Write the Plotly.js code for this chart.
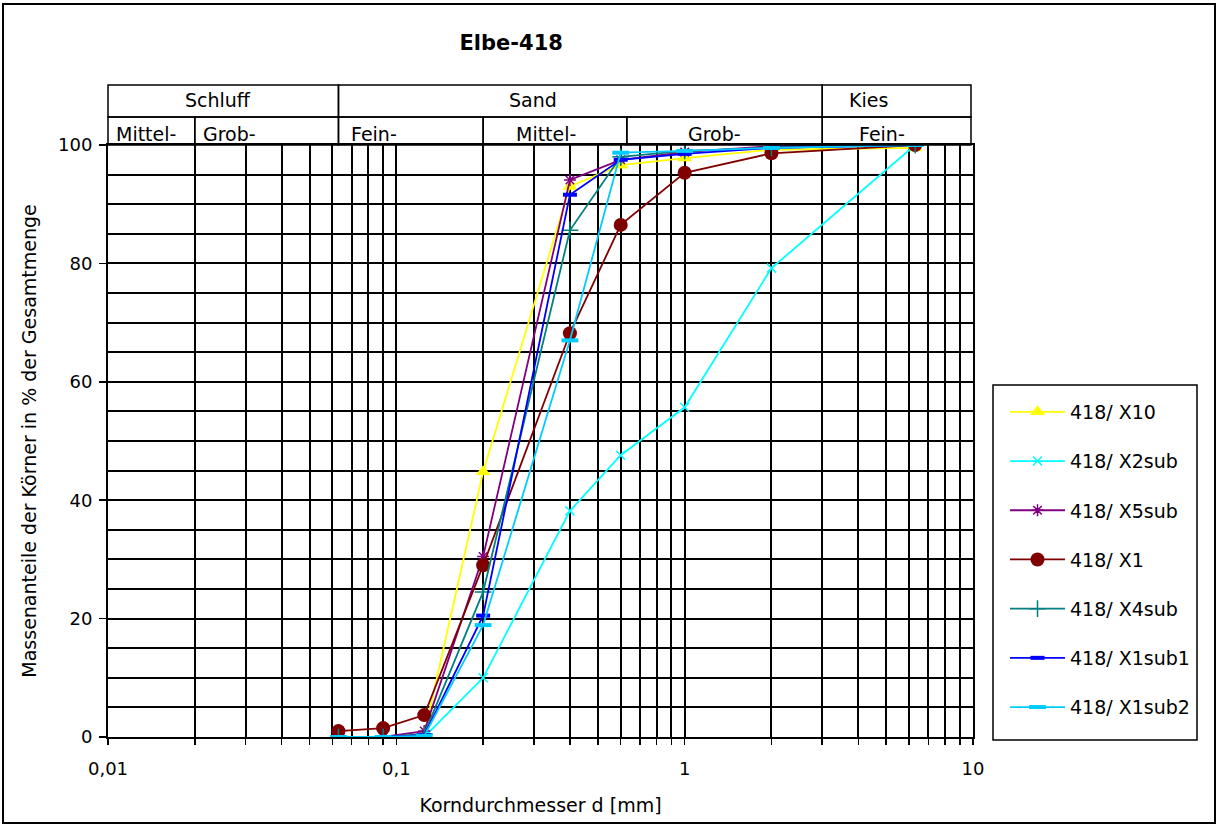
<!DOCTYPE html>
<html><head><meta charset="utf-8">
<script src="https://cdn.plot.ly/plotly-3.0.1.min.js"></script>
<style>html,body{margin:0;padding:0;background:#fff}#chart{width:1220px;height:825px}</style>
</head><body><div id="chart"></div>
<script>
// ---- data ----
const grainSizes = [0.063, 0.09, 0.125, 0.2, 0.4, 0.6, 1, 2, 6.3];
const seriesNames = ['418/ X10', '418/ X2sub', '418/ X5sub', '418/ X1', '418/ X4sub', '418/ X1sub1', '418/ X1sub2'];
const x10    = [0, 0, 0.5, 44.8, 93.0, 96.6, 97.8, 99.2, 99.5];
const x2sub  = [0, 0, 0, 10.0, 38.2, 47.6, 55.7, 79.2, 100];
const x5sub  = [0, 0, 1.0, 30.5, 94.1, 97.5, 98.8, 99.8, 100];
const x1     = [1.0, 1.5, 3.7, 29.0, 68.2, 86.5, 95.3, 98.6, 100];
const x4sub  = [0, 0, 0.5, 24.5, 85.6, 98.0, 99.0, 99.5, 100];
const x1sub1 = [0, 0, 0.3, 20.5, 91.6, 97.5, 98.5, 99.5, 100];
const x1sub2 = [0, 0, 0.2, 18.9, 67.0, 98.7, 99.0, 99.5, 100];
const decadeLabels = ['0,01', '0,1', '1', '10'];
const classTop = ['Schluff', 'Sand', 'Kies'];
const classTopBounds = [0.01, 0.063, 3, 10];
const classSub = ['Mittel-', 'Grob-', 'Fein-', 'Mittel-', 'Grob-', 'Fein-'];
const classSubBounds = [0.01, 0.02, 0.063, 0.2, 0.63, 3, 10];

// ---- style / layout helpers ----
const FONT = 'DejaVu Sans, Arial, sans-serif';
const topLabelPos = [0.0241, 0.298, 4.33];
const subLabelPos = [0.01355, 0.0263, 0.0838, 0.330, 1.265, 4.84];
const xp = v => (Math.log10(v) + 2) / 3;      // data -> paper (x range log -2..1)
const yp = pix => (737 - pix) / 592;          // pixel -> paper (y)
const xpix = pix => (pix - 108) / 865;

const styles = [
  {color:'#FFFF00', symbol:'triangle-up', size:13, lw:0},
  {color:'#00FFFF', symbol:'x-thin', size:9, lw:1.5},
  {color:'#800080', symbol:'asterisk', size:10, lw:1.5},
  {color:'#800000', symbol:'circle', size:14, lw:0},
  {color:'#008080', symbol:'cross-thin', size:12, lw:1.5},
  {color:'#0000FF', symbol:'line-ew', size:10, lw:4},
  {color:'#00CCFF', symbol:'line-ew', size:12, lw:4}
];
const values = [x10, x2sub, x5sub, x1, x4sub, x1sub1, x1sub2];

const traces = values.map((v, i) => ({
  type:'scatter', mode:'lines+markers', x: grainSizes, y: v, name: seriesNames[i],
  legendgroup: 'g' + i,
  line:{color: styles[i].color, width:1.8},
  marker:{color: styles[i].color, symbol: styles[i].symbol, size: styles[i].size,
          line:{color: styles[i].color, width: styles[i].lw}}
}));

// x ticks: every 1..9 per decade
const xTickVals = [], xTickText = [];
[0.01, 0.1, 1].forEach((d, k) => {
  for (let m = 1; m <= 9; m++) { xTickVals.push(d * m); xTickText.push(m === 1 ? decadeLabels[k] : ''); }
});
xTickVals.push(10); xTickText.push(decadeLabels[3]);

const shapes = [];
const annotations = [];
const rowTop = [yp(85), yp(117)], rowSub = [yp(117), 1.0];
for (let i = 0; i < classTop.length; i++) {
  shapes.push({type:'rect', xref:'paper', yref:'paper', x0: xp(classTopBounds[i]), x1: Math.min(xp(classTopBounds[i+1]), xpix(971)),
    y0: rowTop[1], y1: rowTop[0], line:{color:'#000', width:1.5}, layer:'above'});
  annotations.push({xref:'paper', yref:'paper', x: xp(topLabelPos[i]), y: yp(100), text: classTop[i], showarrow:false,
    xanchor:'center', yanchor:'middle', font:{family:FONT, size:19, color:'#000'}});
}
for (let i = 0; i < classSub.length; i++) {
  shapes.push({type:'rect', xref:'paper', yref:'paper', x0: xp(classSubBounds[i]), x1: Math.min(xp(classSubBounds[i+1]), xpix(971)),
    y0: rowSub[1], y1: rowSub[0], line:{color:'#000', width:1.5}, layer:'above'});
  annotations.push({xref:'paper', yref:'paper', x: xp(subLabelPos[i]), y: yp(134), text: classSub[i], showarrow:false,
    xanchor:'center', yanchor:'middle', font:{family:FONT, size:19, color:'#000'}});
}
// legend box
shapes.push({type:'rect', xref:'paper', yref:'paper', x0: xpix(993), x1: xpix(1197), y0: yp(740), y1: yp(385),
  line:{color:'#000', width:1.5}, fillcolor:'#fff', layer:'below'});
// outer frame
shapes.push({type:'rect', xref:'paper', yref:'paper', x0: xpix(3), x1: xpix(1215), y0: yp(823), y1: yp(4),
  line:{color:'#000', width:2}, layer:'above'});

const layout = {
  width:1220, height:825,
  margin:{l:108, r:247, t:145, b:88, pad:0},
  paper_bgcolor:'#fff', plot_bgcolor:'#fff',
  font:{family:FONT, size:18, color:'#000'},
  title:{text:'<b>Elbe-418</b>', x:0.419, xanchor:'center', xref:'container', y:1-43/825, yanchor:'middle', yref:'container',
    font:{family:FONT, size:21, color:'#000'}},
  xaxis:{type:'log', range:[-2, 1], tickmode:'array', tickvals:xTickVals, ticktext:xTickText,
    showgrid:true, gridcolor:'#000', gridwidth:2, ticks:'outside', ticklen:6, tickcolor:'#000', tickwidth:1.5,
    showline:true, linecolor:'#000', linewidth:2, mirror:true, zeroline:false,
    tickfont:{family:FONT, size:18, color:'#000'}, ticklabelstandoff:8,
    title:{text:'Korndurchmesser d [mm]', font:{family:FONT, size:19, color:'#000'}, standoff:21},
    automargin:false},
  yaxis:{range:[0, 100], dtick:20, tick0:0, showgrid:true, gridcolor:'#000', gridwidth:2,
    minor:{dtick:5, showgrid:true, gridcolor:'#000', gridwidth:2, ticks:''},
    ticks:'outside', ticklen:7, tickcolor:'#000', tickwidth:1.5,
    showline:true, linecolor:'#000', linewidth:2, mirror:true, zeroline:false,
    tickfont:{family:FONT, size:18, color:'#000'}, ticklabelstandoff:3,
    title:{text:'Massenanteile der Körner in % der Gesamtmenge', font:{family:FONT, size:19, color:'#000'}, standoff:16},
    automargin:false},
  legend:{x: xpix(1005), xanchor:'left', y: yp(393), yanchor:'top', bgcolor:'rgba(0,0,0,0)', borderwidth:0,
    font:{family:FONT, size:19, color:'#000'}, traceorder:'grouped', tracegroupgap:21.5, itemwidth:55},
  showlegend:true,
  shapes: shapes,
  annotations: annotations
};

Plotly.newPlot('chart', traces, layout, {displayModeBar:false, staticPlot:true});
</script></body></html>
